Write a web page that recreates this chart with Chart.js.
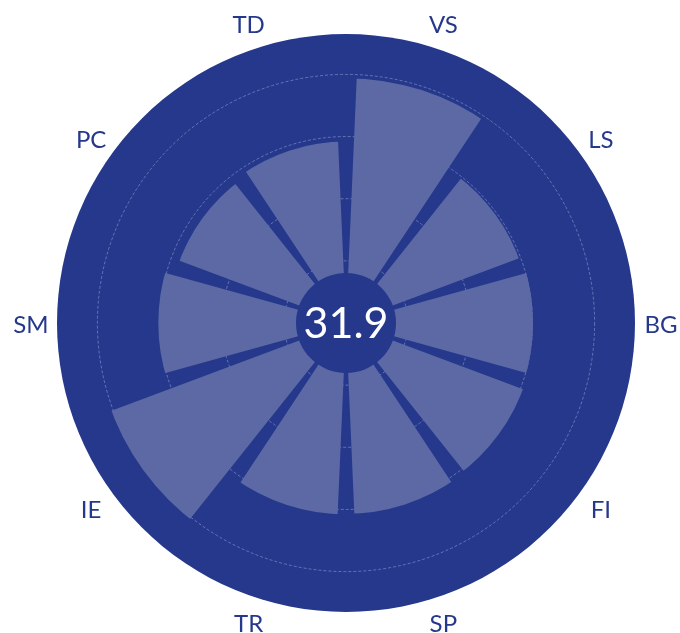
<!DOCTYPE html>
<html>
<head>
<meta charset="utf-8">
<title>Polar scores</title>
<style>
  html, body { margin: 0; padding: 0; background: #fff; }
  #wrap { width: 680px; height: 633px; }
</style>
</head>
<body>
<div id="wrap"><canvas id="polarChart"></canvas></div>
<script src="https://cdn.jsdelivr.net/npm/chart.js@4.4.1/dist/chart.umd.min.js"></script>
<script>
const labels = ["VS", "LS", "BG", "FI", "SP", "TR", "IE", "SM", "PC", "TD"];
const scores = [39.4, 29.7, 30.1, 30.4, 30.7, 30.8, 40.3, 30.2, 28.6, 29.2];
const gridStep = 10;
const scaleMax = 46.5;

const navy = "#25388b";
const segmentFill = "#5c69a5";

const average = scores.reduce((a, b) => a + b, 0) / scores.length;

// cut a thin wedge out of the segments at every boundary
const gapPlugin = {
  id: "segmentGaps",
  beforeDatasetsDraw(chart, args, opts) {
    const r = chart.scales.r;
    const ctx = chart.ctx;
    const half = (opts.angle / 2) * Math.PI / 180;
    const reach = r.drawingArea + 20;
    ctx.save();
    ctx.beginPath();
    ctx.rect(0, 0, chart.width, chart.height);
    for (let i = 0; i < labels.length; i++) {
      const a = r.getIndexAngle(i) - Math.PI / 2;
      ctx.moveTo(r.xCenter, r.yCenter);
      ctx.arc(r.xCenter, r.yCenter, reach, a - half, a + half);
      ctx.closePath();
    }
    ctx.clip("evenodd");
  },
  afterDatasetsDraw(chart) {
    chart.ctx.restore();
  }
};

// average badge in the middle + category names around the rim
const badgePlugin = {
  id: "centerBadge",
  afterDraw(chart, args, opts) {
    const r = chart.scales.r;
    const ctx = chart.ctx;
    ctx.save();
    ctx.beginPath();
    ctx.arc(r.xCenter, r.yCenter, opts.radius, 0, Math.PI * 2);
    ctx.fillStyle = navy;
    ctx.fill();
    ctx.fillStyle = "#ffffff";
    ctx.font = "43px Lato";
    ctx.textAlign = "center";
    ctx.textBaseline = "middle";
    ctx.fillText(average.toFixed(1), r.xCenter, r.yCenter + 1);

    ctx.fillStyle = navy;
    ctx.font = "24px Lato";
    const half = Math.PI / labels.length;
    labels.forEach((name, i) => {
      const p = r.getPointPosition(i, r.drawingArea + opts.labelGap, half);
      ctx.fillText(name, p.x, p.y + 2);
    });
    ctx.restore();
  }
};

const polarChart = new Chart(document.getElementById("polarChart"), {
  type: "polarArea",
  data: {
    labels: labels,
    datasets: [
      {
        data: scores,
        backgroundColor: segmentFill,
        borderWidth: 0,
      },
    ],
  },
  options: {
    responsive: true,
    maintainAspectRatio: false,
    animation: false,
    layout: {
      padding: { left: 57, right: 45, top: 34, bottom: 21 },
    },
    plugins: {
      legend: { display: false },
      tooltip: { enabled: false },
      segmentGaps: { angle: 5 },
      centerBadge: { radius: 50, labelGap: 26 },
    },
    scales: {
      r: {
        min: 0,
        max: scaleMax,
        startAngle: 0,
        backgroundColor: navy,
        angleLines: { display: false },
        pointLabels: { display: false },
        grid: {
          circular: true,
          color: "rgba(140,155,210,0.6)",
          lineWidth: 1,
        },
        border: { dash: [3, 2] },
        ticks: {
          display: false,
          stepSize: gridStep,
          includeBounds: false,
        },
      },
    },
  },
  plugins: [gapPlugin, badgePlugin],
});
</script>
</body>
</html>
